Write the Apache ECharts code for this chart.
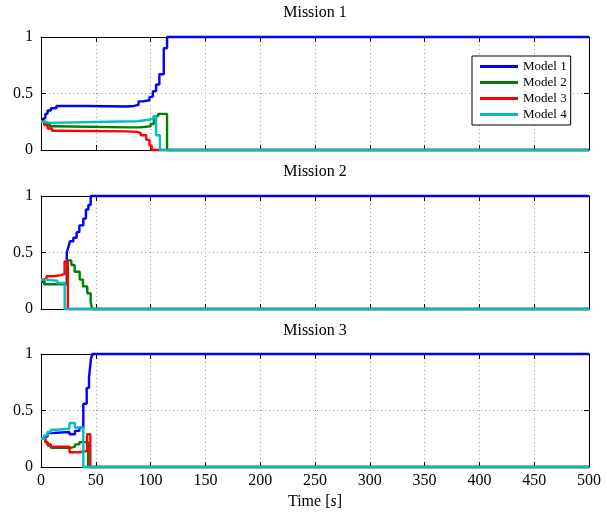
<!DOCTYPE html>
<html>
<head>
<meta charset="utf-8">
<script src="https://cdn.jsdelivr.net/npm/echarts@6/dist/echarts.min.js"></script>
<style>html,body{margin:0;padding:0;background:#fff}#c{width:607px;height:518px}</style>
</head>
<body>
<div id="c"></div>
<script>
// ---- data: [time (s), probability] step points ----
var missionTitles = ['Mission 1', 'Mission 2', 'Mission 3'];
var modelNames = ['Model 1', 'Model 2', 'Model 3', 'Model 4'];
var xTicks = [0, 50, 100, 150, 200, 250, 300, 350, 400, 450, 500];
var yTicks = [0, 0.5, 1];

var m1Model1 = [[0,0.25],[2,0.28],[4,0.32],[6,0.35],[9,0.37],[14,0.39],[40,0.385],[78,0.39],[85,0.40],[89,0.43],[93,0.44],[99,0.47],[102,0.52],[105,0.58],[108,0.67],[112,0.90],[115,1.0]];
var m1Model2 = [[0,0.25],[4,0.23],[8,0.21],[12,0.20],[80,0.20],[90,0.21],[100,0.23],[103,0.30],[107,0.32],[115,0]];
var m1Model3 = [[0,0.25],[3,0.22],[6,0.19],[10,0.17],[14,0.165],[78,0.16],[88,0.15],[91,0.13],[96,0.09],[99,0.04],[101,0]];
var m1Model4 = [[0,0.25],[3,0.24],[8,0.25],[60,0.255],[88,0.27],[100,0.28],[103,0.30],[105,0.13],[108.5,0]];

var m2Model1 = [[0,0.24],[3,0.22],[23.5,0.50],[25,0.55],[26.5,0.60],[29.5,0.63],[32.5,0.68],[35,0.74],[38.6,0.80],[41,0.88],[43.2,0.92],[45.3,1.0]];
var m2Model2 = [[0,0.25],[3,0.22],[24,0.43],[27.7,0.39],[30.7,0.33],[35.3,0.26],[38.3,0.20],[42.2,0.14],[45.3,0.065],[46.5,0]];
var m2Model3 = [[0,0.26],[2,0.27],[5,0.29],[12,0.30],[18,0.31],[21.5,0.42],[24.5,0]];
var m2Model4 = [[0,0.26],[5,0.25],[15,0.23],[21.6,0]];

var m3Model1 = [[0,0.25],[3,0.27],[6,0.30],[9,0.31],[26,0.29],[31,0.32],[35,0.35],[38.6,0.56],[41.7,0.70],[43.8,0.79],[45.6,0.96],[47.1,1.0]];
var m3Model2 = [[0,0.25],[4,0.22],[6,0.19],[9,0.17],[27,0.18],[31,0.20],[35,0.22],[43,0]];
var m3Model3 = [[0,0.25],[4,0.22],[6,0.20],[9,0.18],[26,0.13],[35,0.14],[42,0.29],[45,0]];
var m3Model4 = [[0,0.25],[3,0.28],[6,0.31],[9,0.33],[14,0.34],[26,0.39],[31,0.35],[38.6,0]];

var missions = [
  [m1Model1, m1Model2, m1Model3, m1Model4],
  [m2Model1, m2Model2, m2Model3, m2Model4],
  [m3Model1, m3Model2, m3Model3, m3Model4]
];
var colors = ['#0000ff', '#008000', '#ff0000', '#00bfbf'];
var tEnd = 500;

// ---- layout ----
var FONT = '"Liberation Serif", "Times New Roman", serif';
var gridTops = [37, 196, 354];
var gridH = 113, gridLeft = 41, gridRight = 18;
var titleY = [13, 172, 331];

var grids = [], xAxes = [], yAxes = [], series = [], graphics = [];
gridTops.forEach(function (top, i) {
  grids.push({left: gridLeft, right: gridRight, top: top, height: gridH, show: false});
  var last = i === gridTops.length - 1;
  var splitDotted = {show: true, lineStyle: {color: '#a0a0a0', width: 1, type: [1, 3]}};
  xAxes.push({
    gridIndex: i, type: 'value', min: 0, max: 500, interval: 50, position: 'bottom',
    axisLine: {show: true, onZero: false, lineStyle: {color: '#000', width: 1}},
    axisTick: {show: true, inside: true, length: 5, lineStyle: {color: '#000'}},
    axisLabel: {show: last, color: '#000', fontFamily: FONT, fontSize: 16, margin: 6},
    splitLine: splitDotted,
    name: last ? '{a|Time [}{b|s}{a|]}' : '',
    nameLocation: 'middle', nameGap: 27,
    nameTextStyle: {color: '#000', fontFamily: FONT, fontSize: 16,
      rich: {a: {fontFamily: FONT, fontSize: 16, color: '#000'}, b: {fontFamily: FONT, fontSize: 16, color: '#000', fontStyle: 'italic'}}}
  });
  xAxes.push({
    gridIndex: i, type: 'value', min: 0, max: 500, interval: 50, position: 'top',
    axisLine: {show: true, onZero: false, lineStyle: {color: '#000', width: 1}},
    axisTick: {show: true, inside: true, length: 5, lineStyle: {color: '#000'}},
    axisLabel: {show: false}, splitLine: {show: false}
  });
  yAxes.push({
    gridIndex: i, type: 'value', min: 0, max: 1, interval: 0.5, position: 'left',
    axisLine: {show: true, onZero: false, lineStyle: {color: '#000', width: 1}},
    axisTick: {show: true, inside: true, length: 5, lineStyle: {color: '#000'}},
    axisLabel: {show: true, color: '#000', fontFamily: FONT, fontSize: 16, margin: 8},
    splitLine: splitDotted
  });
  yAxes.push({
    gridIndex: i, type: 'value', min: 0, max: 1, interval: 0.5, position: 'right',
    axisLine: {show: true, onZero: false, lineStyle: {color: '#000', width: 1}},
    axisTick: {show: true, inside: true, length: 5, lineStyle: {color: '#000'}},
    axisLabel: {show: false}, splitLine: {show: false}
  });
  missions[i].forEach(function (pts, j) {
    var d = pts.slice();
    d.push([tEnd, pts[pts.length - 1][1]]);
    series.push({
      name: modelNames[j], type: 'line', step: 'end',
      xAxisIndex: 2 * i, yAxisIndex: 2 * i,
      data: d, showSymbol: false, symbol: 'none', clip: false,
      lineStyle: {color: colors[j], width: 2.4}, itemStyle: {color: colors[j]},
      z: 3 + j
    });
  });
  graphics.push({
    type: 'text', x: gridLeft + (607 - gridLeft - gridRight) / 2, y: titleY[i],
    style: {text: missionTitles[i], font: '16px ' + FONT, fill: '#000',
      align: 'center', verticalAlign: 'middle', textAlign: 'center', textVerticalAlign: 'middle'}
  });
});

var chart = echarts.init(document.getElementById('c'), null, {renderer: 'canvas'});
chart.setOption({
  animation: false,
  backgroundColor: '#fff',
  grid: grids, xAxis: xAxes, yAxis: yAxes, series: series,
  graphic: graphics,
  legend: {
    data: modelNames, orient: 'vertical', left: 472, top: 56,
    backgroundColor: '#fff', borderColor: '#000', borderWidth: 1,
    padding: [4, 4, 4, 8], itemGap: 3, itemWidth: 38, itemHeight: 3,
    icon: 'rect', textStyle: {color: '#000', fontFamily: FONT, fontSize: 13},
    selectedMode: false, z: 10
  }
});
</script>
</body>
</html>
